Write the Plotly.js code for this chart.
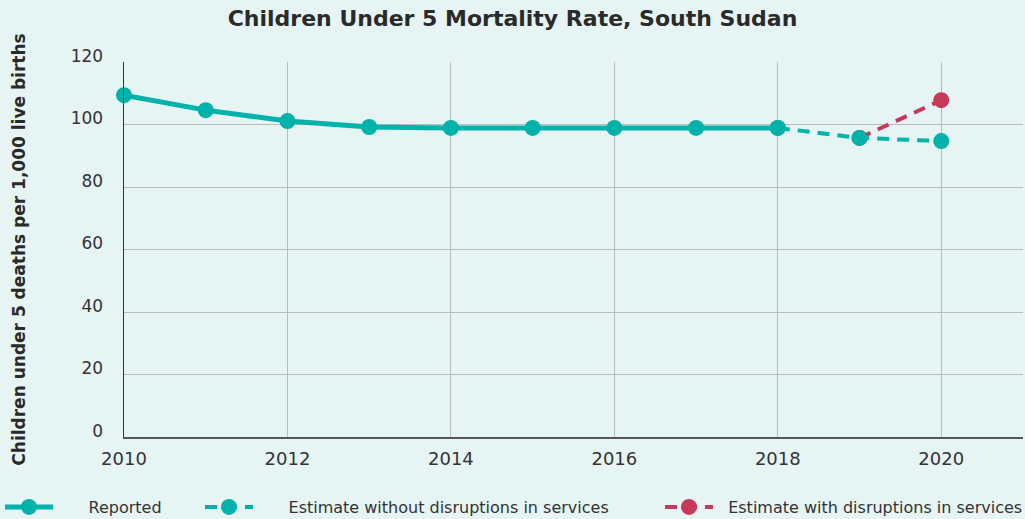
<!DOCTYPE html>
<html>
<head>
<meta charset="utf-8">
<script src="https://cdn.plot.ly/plotly-3.0.1.min.js"></script>
<style>html,body{margin:0;padding:0;background:#e6f4f4;}#chart{width:1025px;height:519px;}</style>
</head>
<body>
<div id="chart"></div>
<script>
const reportedYears = [2010, 2011, 2012, 2013, 2014, 2015, 2016, 2017, 2018];
const reportedValues = [109.4, 104.6, 101.1, 99.2, 98.9, 98.9, 98.9, 98.9, 98.9];
const withoutYears = [2018, 2019, 2020];
const withoutValues = [98.9, 95.7, 94.7];
const withYears = [2019, 2020];
const withValues = [95.7, 107.8];
const yTicks = [0, 20, 40, 60, 80, 100, 120];
const yGridTicks = [20, 40, 60, 80, 100];
const xTicks = [2010, 2012, 2014, 2016, 2018, 2020];

const teal = '#00b2a9';
const red = '#c8385a';
const FONT = 'DejaVu Sans, sans-serif';
const NB6 = '\u00a0\u00a0\u00a0\u00a0\u00a0\u00a0';
const NB2 = '\u00a0\u00a0';

const traces = [
  {x: withYears, y: withValues, name: NB2 + 'Estimate with disruptions in services', mode: 'lines+markers',
   line: {color: red, width: 4, dash: '12px,8px'}, marker: {color: red, size: 16}, legend: 'legend3', cliponaxis: false},
  {x: withoutYears, y: withoutValues, name: NB6 + 'Estimate without disruptions in services', mode: 'lines+markers',
   line: {color: teal, width: 4, dash: '12px,8px'}, marker: {color: teal, size: 16}, legend: 'legend2', cliponaxis: false},
  {x: reportedYears, y: reportedValues, name: NB6 + 'Reported', mode: 'lines+markers',
   line: {color: teal, width: 5}, marker: {color: teal, size: 16}, legend: 'legend', cliponaxis: false}
];

const legendBase = {orientation: 'h', xref: 'container', yref: 'container', y: 1 - 507/519,
  xanchor: 'left', yanchor: 'middle', font: {size: 16, color: '#333', family: FONT}, itemwidth: 48,
  bgcolor: 'rgba(0,0,0,0)'};

const layout = {
  width: 1025, height: 519,
  paper_bgcolor: '#e6f4f4', plot_bgcolor: '#e6f4f4',
  margin: {l: 124, r: 2, t: 62, b: 82},
  font: {family: FONT, color: '#333333', size: 16},
  title: {text: '<b>Children Under 5 Mortality Rate, South Sudan</b>', font: {size: 22, color: '#2a2a2a', family: FONT},
          x: 0.5, xanchor: 'center', yref: 'container', y: 1 - 18/519, yanchor: 'middle'},
  xaxis: {range: [2010, 2021], tickvals: xTicks, ticktext: xTicks.map(String), showgrid: true,
          gridcolor: '#b9bcbc', gridwidth: 1, showline: true, linecolor: '#555', linewidth: 1.5,
          zeroline: false, ticks: '', tickfont: {size: 18, color: '#333'}, ticklabelstandoff: 5},
  yaxis: {range: [0, 120], tickvals: yTicks, ticktext: yTicks.map(String), showgrid: false,
          showline: true, linecolor: '#333', linewidth: 1.5,
          zeroline: false, ticks: '', tickfont: {size: 17, color: '#333'}, ticklabelstandoff: 16, ticklabelshift: -6,
          title: {text: '<b>Children under 5 deaths per 1,000 live births</b>', font: {size: 17, color: '#2a2a2a'}, standoff: 40}},
  yaxis2: {overlaying: 'y', range: [0, 120], tickvals: yGridTicks, showgrid: true, gridcolor: '#b9bcbc', gridwidth: 1,
           showticklabels: false, showline: false, zeroline: false, ticks: ''},
  showlegend: true,
  legend: Object.assign({}, legendBase, {x: 0.0}),
  legend2: Object.assign({}, legendBase, {x: 200/1025}),
  legend3: Object.assign({}, legendBase, {x: 660/1025})
};

// invisible helper trace to activate yaxis2 gridlines
traces.unshift({x: [2010], y: [0], yaxis: 'y2', mode: 'markers', marker: {opacity: 0}, showlegend: false, hoverinfo: 'skip'});

Plotly.newPlot('chart', traces, layout, {displayModeBar: false, staticPlot: true});
</script>
</body>
</html>
